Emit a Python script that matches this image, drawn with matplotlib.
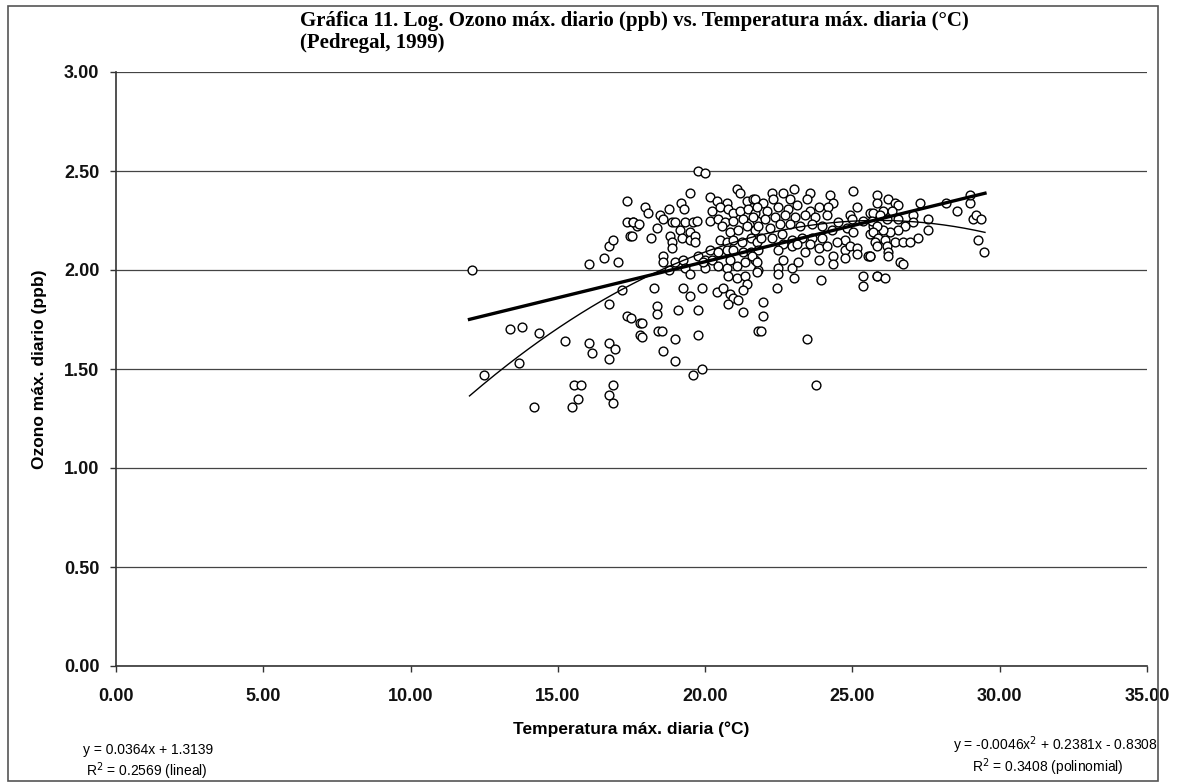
import numpy as np
import matplotlib
matplotlib.use("Agg")
import matplotlib.pyplot as plt
from matplotlib.patches import Rectangle

# Daily max temperature (°C) and log of daily max ozone (ppb)
temp = [12.09, 12.5, 13.38, 13.79, 14.37, 13.69, 14.2, 15.25, 15.49, 15.69, 15.56, 15.8,
        16.07, 16.17, 16.07, 16.58, 16.75, 16.88, 17.05, 16.75, 16.75, 16.95, 16.75, 16.88,
        16.75, 16.88, 17.19, 17.36, 17.36, 17.56, 17.7, 17.46, 17.36, 17.49, 17.8, 17.8,
        19.77, 20.0, 19.5, 17.97, 18.07, 17.56, 17.77, 17.53, 18.17, 18.38, 18.48, 18.58,
        18.78, 19.19, 19.29, 18.89, 18.99, 18.82, 18.89, 18.89, 19.16, 19.22, 19.33, 19.5,
        19.6, 19.73, 19.5, 19.67, 19.67, 18.58, 18.58, 18.78, 18.99, 19.26, 19.33, 19.5,
        19.77, 20.0, 20.0, 18.27, 18.38, 18.38, 17.87, 17.87, 18.41, 18.55, 18.58, 18.99,
        18.99, 19.09, 19.26, 19.5, 19.77, 19.77, 19.9, 19.6, 19.9,
        20.18, 20.41, 20.75, 21.09, 21.2, 21.43, 21.64,
        20.24, 20.52, 20.79, 20.96, 21.2, 21.47, 21.7,
        20.18, 20.45, 20.69, 20.96, 21.3, 21.54, 21.77,
        20.58, 20.86, 21.13, 21.43, 21.7,
        20.52, 20.75, 20.96, 21.26, 21.54, 21.77,
        20.18, 20.45, 20.75, 20.96, 21.3, 21.54, 21.8,
        19.94, 20.24, 20.45, 20.75, 20.86, 21.09, 21.37, 21.7, 21.8,
        20.79, 21.09, 21.37, 21.43, 21.3,
        20.41, 20.62, 20.86, 20.96, 21.13, 20.79, 21.3, 21.8,
        21.98, 21.98, 21.88, 22.45, 23.47, 23.78, 23.95, 25.37, 25.37, 25.82,
        23.0, 25.03, 22.28, 22.66, 23.57, 24.25, 25.85,
        21.7, 21.98, 22.32, 22.89, 23.47, 23.85, 24.35, 25.17, 25.6,
        21.77, 22.11, 22.49, 22.8, 23.13, 23.57, 24.18, 24.93,
        21.64, 22.04, 22.38, 22.72, 23.06, 23.4, 23.74, 24.15, 24.52, 25.0, 25.37, 25.78,
        21.8, 22.21, 22.55, 22.89, 23.23, 23.64, 23.98, 24.32, 24.83, 25.71,
        21.88, 22.28, 22.62, 22.96, 23.3, 23.64, 23.98, 24.76, 25.03, 25.6, 25.85,
        22.66, 22.96, 23.13, 23.57, 23.85, 24.15, 24.49, 24.76, 24.93, 25.17, 25.54,
        22.49, 23.4, 23.85, 24.35, 24.35, 24.76, 25.17, 25.6, 21.6, 21.77, 21.77, 22.49,
        22.66, 22.96, 23.16, 23.0, 22.49,
        25.85, 26.22, 26.46, 26.56, 26.05, 26.36, 25.71, 25.95, 25.68, 26.19, 26.56, 27.04,
        27.31, 27.55, 27.07, 26.8, 26.56, 26.29, 26.05, 25.85, 25.71, 25.88, 26.12, 25.78,
        26.46, 26.73, 26.97, 27.24, 27.55, 25.85, 26.19, 26.22, 26.22, 25.61, 26.63, 26.73,
        25.85, 26.12, 28.56, 29.0, 29.08, 29.18, 29.35, 29.25, 29.45, 28.16, 29.0]

log_ozone = [2.00, 1.47, 1.70, 1.71, 1.68, 1.53, 1.31, 1.64, 1.31, 1.35, 1.42, 1.42,
             1.63, 1.58, 2.03, 2.06, 2.12, 2.15, 2.04, 1.83, 1.63, 1.60, 1.55, 1.42,
             1.37, 1.33, 1.90, 2.35, 2.24, 2.24, 2.22, 2.17, 1.77, 1.76, 1.73, 1.67,
             2.50, 2.49, 2.39, 2.32, 2.29, 2.24, 2.23, 2.17, 2.16, 2.21, 2.28, 2.26,
             2.31, 2.34, 2.31, 2.24, 2.24, 2.17, 2.14, 2.11, 2.20, 2.16, 2.24, 2.19,
             2.24, 2.25, 2.15, 2.17, 2.14, 2.07, 2.04, 2.00, 2.04, 2.05, 2.01, 1.98,
             2.07, 2.05, 2.01, 1.91, 1.82, 1.78, 1.73, 1.66, 1.69, 1.69, 1.59, 1.65,
             1.54, 1.80, 1.91, 1.87, 1.80, 1.67, 1.91, 1.47, 1.50,
             2.37, 2.35, 2.34, 2.41, 2.39, 2.35, 2.36,
             2.30, 2.32, 2.31, 2.29, 2.30, 2.31, 2.29,
             2.25, 2.26, 2.24, 2.25, 2.26, 2.24, 2.25,
             2.22, 2.19, 2.20, 2.22, 2.20,
             2.15, 2.14, 2.15, 2.14, 2.16, 2.14,
             2.10, 2.09, 2.10, 2.10, 2.09, 2.09, 2.10,
             2.04, 2.05, 2.02, 2.01, 2.05, 2.02, 2.04, 2.05, 2.00,
             1.97, 1.96, 1.97, 1.93, 1.90,
             1.89, 1.91, 1.88, 1.86, 1.85, 1.83, 1.79, 1.69,
             1.84, 1.77, 1.69, 1.91, 1.65, 1.42, 1.95, 1.97, 1.92, 1.97,
             2.41, 2.40, 2.39, 2.39, 2.39, 2.38, 2.38,
             2.36, 2.34, 2.36, 2.36, 2.36, 2.32, 2.34, 2.32, 2.29,
             2.32, 2.30, 2.32, 2.31, 2.33, 2.30, 2.32, 2.28,
             2.27, 2.26, 2.27, 2.28, 2.27, 2.28, 2.27, 2.28, 2.24, 2.26, 2.25, 2.27,
             2.22, 2.21, 2.23, 2.23, 2.22, 2.23, 2.22, 2.20, 2.21, 2.22,
             2.16, 2.16, 2.18, 2.15, 2.16, 2.16, 2.16, 2.15, 2.19, 2.18, 2.19,
             2.13, 2.12, 2.13, 2.13, 2.11, 2.12, 2.14, 2.10, 2.12, 2.11, 2.07,
             2.10, 2.09, 2.05, 2.07, 2.03, 2.06, 2.08, 2.07, 2.07, 2.04, 1.99, 2.01,
             2.05, 2.01, 2.04, 1.96, 1.98,
             2.34, 2.36, 2.34, 2.33, 2.30, 2.30, 2.29, 2.28, 2.25, 2.26, 2.26, 2.28,
             2.34, 2.26, 2.24, 2.22, 2.20, 2.19, 2.20, 2.22, 2.19, 2.16, 2.15, 2.14,
             2.14, 2.14, 2.14, 2.16, 2.20, 2.12, 2.12, 2.09, 2.07, 2.07, 2.04, 2.03,
             1.97, 1.96, 2.30, 2.34, 2.26, 2.28, 2.26, 2.15, 2.09, 2.34, 2.38]

# Trendline coefficients as printed on the chart
lin_coef = [0.0364, 1.3139]            # y = a x + b
poly_coef = [-0.0046, 0.2381, -0.8308]  # y = a x^2 + b x + c
fit_range = [12.0, 29.5]

x_ticks = [0, 5, 10, 15, 20, 25, 30, 35]
y_ticks = [0.0, 0.5, 1.0, 1.5, 2.0, 2.5, 3.0]

title = "Gráfica 11. Log. Ozono máx. diario (ppb) vs. Temperatura máx. diaria (°C)\n(Pedregal, 1999)"
xlabel = "Temperatura máx. diaria (°C)"
ylabel = "Ozono máx. diario (ppb)"

fig = plt.figure(figsize=(11.79, 7.83), dpi=100)
ax = fig.add_axes([116/1179, 1 - 666/783, (1147-116)/1179, (666-72)/783])

ax.set_xlim(0, 35)
ax.set_ylim(0, 3)
ax.set_xticks(x_ticks)
ax.set_yticks(y_ticks)
ax.set_xticklabels([f"{v:.2f}" for v in x_ticks])
ax.set_yticklabels([f"{v:.2f}" for v in y_ticks])
for lab in ax.get_xticklabels() + ax.get_yticklabels():
    lab.set_fontfamily("Liberation Sans")
    lab.set_fontweight("bold")
    lab.set_fontsize(13)
    lab.set_color("#111111")
ax.tick_params(axis="x", direction="out", length=4, width=1, color="#333333", pad=12)
ax.tick_params(axis="y", direction="out", length=4, width=1, color="#333333", pad=8)

ax.grid(axis="y", color="#444444", linewidth=0.9)
ax.set_axisbelow(True)
for s in ["top", "right"]:
    ax.spines[s].set_visible(False)
for s in ["left", "bottom"]:
    ax.spines[s].set_color("#333333")
    ax.spines[s].set_linewidth(1.2)

ax.scatter(temp, log_ozone, s=40, facecolors="white", edgecolors="black",
           linewidths=1.0, zorder=3)

xs = np.linspace(fit_range[0], fit_range[1], 200)
ax.plot(xs, np.polyval(lin_coef, xs), color="black", linewidth=2.4, zorder=4)
ax.plot(xs, np.polyval(poly_coef, xs), color="black", linewidth=1.0, zorder=4)

ax.set_xlabel(xlabel, fontfamily="Liberation Sans", fontweight="bold", fontsize=12.5, labelpad=12)
ax.set_ylabel(ylabel, fontfamily="Liberation Sans", fontweight="bold", fontsize=12.5, labelpad=12)

fig.text(300/1179, 1 - 11/783, title, ha="left", va="top", fontfamily="Liberation Serif",
         fontweight="bold", fontsize=15, linespacing=1.15)

ann_font = dict(fontfamily="Liberation Sans", fontsize=10, ha="center", va="center")
fig.text(148/1179, 1 - 750/783, "y = 0.0364x + 1.3139", **ann_font)
fig.text(147/1179, 1 - 771/783, "R$^2$ = 0.2569 (lineal)", **ann_font)
fig.text(1055/1179, 1 - 745/783, "y = -0.0046x$^2$ + 0.2381x - 0.8308", **ann_font)
fig.text(1048/1179, 1 - 767/783, "R$^2$ = 0.3408 (polinomial)", **ann_font)

fig.patches.append(Rectangle((8/1179, 0.002), (1158-8)/1179, (775)/783, transform=fig.transFigure,
                             fill=False, edgecolor="#555555", linewidth=1.2))

fig.savefig("out.png", dpi=100)
